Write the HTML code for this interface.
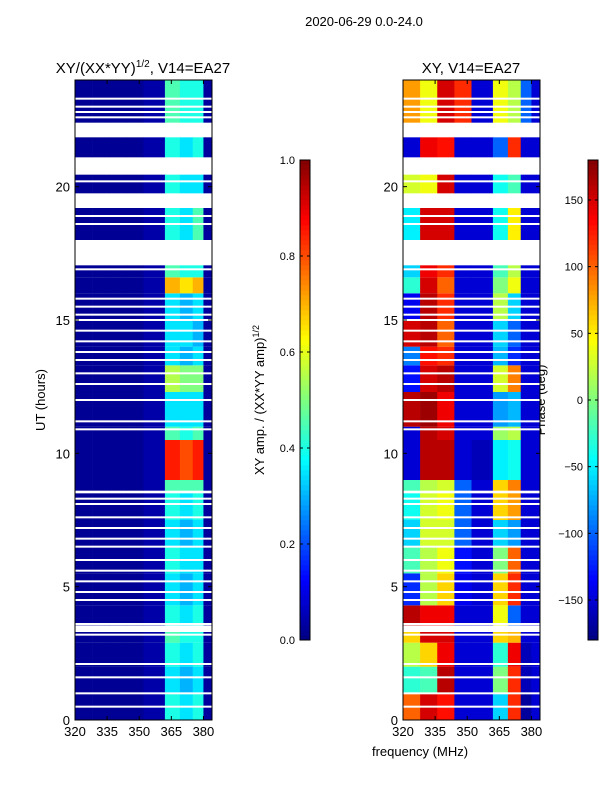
<!DOCTYPE html>
<html><head><meta charset="utf-8"><style>
body{margin:0;background:#fff;width:600px;height:800px;overflow:hidden}
svg text{font-family:"Liberation Sans",sans-serif;fill:#000}
</style></head><body>
<svg id="fig" width="600" height="800" xmlns="http://www.w3.org/2000/svg">
<text x="364" y="26" font-size="13" text-anchor="middle">2020-06-29 0.0-24.0</text>
<text x="143" y="73" font-size="15" text-anchor="middle">XY/(XX*YY)<tspan font-size="10" dy="-6">1/2</tspan><tspan dy="6">, V14=EA27</tspan></text>
<text x="471" y="73" font-size="15" text-anchor="middle">XY, V14=EA27</text>
<text transform="translate(45,400) rotate(-90)" font-size="13" text-anchor="middle">UT (hours)</text>
<text x="420" y="756" font-size="13" text-anchor="middle">frequency (MHz)</text>
<text transform="translate(264,400) rotate(-90)" font-size="13" text-anchor="middle">XY amp. / (XX*YY amp)<tspan font-size="9" dy="-5">1/2</tspan></text>
<text transform="translate(545,400) rotate(-90)" font-size="13" text-anchor="middle">Phase (deg)</text>
<g id="g"></g>
</svg>
<script>
const freqEdges=[320,328,336,344,352,362,369,375,380,384];
const blockStart=[0,1.0,2.0,2.9,3.55,4.3,5.5,6.5,7.5,8.6,9.0,10.5,11.0,12.3,13.3,14.0,15.0,16.0,16.6,18.0,19.75,21.1,22.4];
const blockEnd=[1.0,2.0,2.9,3.3,4.3,5.5,6.5,7.5,8.5,9.0,10.5,11.0,12.3,13.3,14.0,15.0,16.0,16.6,17.05,19.2,20.45,21.85,24];
const ampHi=[[0.4,0.35,0.4],[0.35,0.3,0.35],[0.4,0.35,0.4],[0.45,0.4,0.4],[0.4,0.35,0.4],[0.35,0.3,0.35],[0.4,0.35,0.35],[0.35,0.3,0.35],[0.4,0.35,0.4],[0.45,0.45,0.45],[0.85,0.8,0.85],[0.45,0.4,0.45],[0.35,0.35,0.35],[0.55,0.5,0.5],[0.35,0.3,0.35],[0.35,0.35,0.3],[0.35,0.3,0.35],[0.7,0.65,0.7],[0.45,0.4,0.4],[0.4,0.35,0.45],[0.4,0.35,0.35],[0.4,0.35,0.4],[0.45,0.4,0.4]];
const ampLow=[0.02,0.02,0.02,0.02,0.04];
const phase=[
[100,150,130,-150,-150,-60,120,-170,-150],[-30,-20,160,-150,-150,0,120,-160,-150],[20,60,140,-150,-150,-30,140,-160,-150],[60,150,150,-150,-150,60,70,-150,-150],
[160,140,140,-150,-150,40,-100,-150,-150],[-120,20,60,-140,-150,60,120,-150,-150],[-20,20,40,-130,-150,0,100,-150,-150],[-60,30,30,-100,-150,-60,-80,-150,-150],
[-40,30,40,-100,-150,60,80,-150,-150],[-20,20,30,-100,-150,60,90,-150,-150],[-150,160,160,-150,-160,-50,-40,-150,-150],[-150,160,150,-150,-150,10,20,-150,-150],
[160,170,140,-150,-150,-80,-70,-150,-150],[-130,150,160,-150,-150,30,90,-150,-150],[-90,130,120,-150,-150,-70,-120,-150,-150],[150,160,100,-150,-150,-60,-100,-150,-150],
[-140,160,120,-150,-150,20,-60,-150,-150],[-30,150,100,-150,-150,0,40,-150,-150],[-60,140,120,-150,-150,-20,20,-150,-150],[-50,150,150,-150,-150,-40,50,-150,-150],
[30,40,150,-150,-150,-40,-20,-150,-150],[-150,140,130,-150,-150,-100,120,-150,-150],[80,40,150,120,-150,40,20,-100,-150]];
const thinFlags=[23.3,23.0,22.8,22.6,20.2,18.6,18.9,16.9,15.8,15.5,15.2,15.0,14.6,14.2,13.8,13.5,13.0,12.6,12.0,11.2,10.9,8.3,8.1,7.6,7.2,6.8,6.5,6.0,5.6,5.2,4.8,4.5,3.6,3.2,2.1,1.6,1.0,0.5];
const xTicks=[320,335,350,365,380];
const yTicks=[0,5,10,15,20];
const ampTicks=[0,0.2,0.4,0.6,0.8,1.0];
const phTicks=[-150,-100,-50,0,50,100,150];

const NS="http://www.w3.org/2000/svg",G=document.getElementById('g');
function el(t,a,p){const e=document.createElementNS(NS,t);for(const k in a)e.setAttribute(k,a[k]);(p||G).appendChild(e);return e;}
function jet(v){v=Math.max(0,Math.min(1,v));const r=Math.min(1,Math.max(0,1.5-Math.abs(4*v-3))),g=Math.min(1,Math.max(0,1.5-Math.abs(4*v-2))),b=Math.min(1,Math.max(0,1.5-Math.abs(4*v-1)));return `rgb(${Math.round(r*255)},${Math.round(g*255)},${Math.round(b*255)})`;}
const Y=h=>720-h*640/24;
function panel(x0,name,valFn){
  const X=f=>x0+(f-320)*137/64;
  const g=el('g',{});
  
  
  blockStart.forEach((s,i)=>{for(let c=0;c<freqEdges.length-1;c++){
    const r=el('rect',{x:X(freqEdges[c]),y:Y(blockEnd[i]),width:X(freqEdges[c+1])-X(freqEdges[c])+0.3,height:Y(blockStart[i])-Y(blockEnd[i]),fill:valFn(i,c)},g);
    
    
  }});
  thinFlags.forEach(h=>{const r=el('rect',{x:x0,y:Y(h)-1,width:137,height:2,fill:'#fff'},g);
    
    });
  const fr=el('rect',{x:x0,y:80,width:137,height:640,fill:'none',stroke:'#000','stroke-width':1},g);
  
  
  xTicks.forEach(t=>{el('line',{x1:X(t),x2:X(t),y1:720,y2:716,stroke:'#000'},g);el('line',{x1:X(t),x2:X(t),y1:80,y2:84,stroke:'#000'},g);
    const tx=el('text',{x:X(t),y:736,'font-size':13,'text-anchor':'middle'},g);tx.textContent=t;
    
    });
  yTicks.forEach(t=>{el('line',{x1:x0,x2:x0+4,y1:Y(t),y2:Y(t),stroke:'#000'},g);el('line',{x1:x0+133,x2:x0+137,y1:Y(t),y2:Y(t),stroke:'#000'},g);
    const tx=el('text',{x:x0-5,y:Y(t)+5,'font-size':13,'text-anchor':'end'},g);tx.textContent=t;
    
    });
}
panel(75,'amp-heatmap',(i,c)=>jet(c<5?ampLow[c]:c<8?ampHi[i][c-5]:0.03));
panel(403,'phase-heatmap',(i,c)=>jet((phase[i][c]+180)/360));
function cbar(x,name,ticks,lo,hi,left,fmt){
  const g=el('g',{});
  
  
  for(let k=0;k<96;k++){el('rect',{x:x,y:640-(k+1)*5,width:10,height:5.3,fill:jet((k+0.5)/96)},g);}
  el('rect',{x:x,y:160,width:10,height:480,fill:'none',stroke:'#000'},g);
  ticks.forEach(t=>{const y=640-(t-lo)/(hi-lo)*480;
    el('line',{x1:x,x2:x+3,y1:y,y2:y,stroke:'#000'},g);el('line',{x1:x+7,x2:x+10,y1:y,y2:y,stroke:'#000'},g);
    const tx=el('text',{x:x-5,y:y+4,'font-size':11,'text-anchor':'end'},g);tx.textContent=fmt(t);
    
    });
}
cbar(300,'amp-colorbar',ampTicks,0,1,true,t=>t.toFixed(1));
cbar(588,'phase-colorbar',phTicks,-180,180,true,t=>t<0?'\u2212'+(-t):String(t));
</script>
</body></html>
